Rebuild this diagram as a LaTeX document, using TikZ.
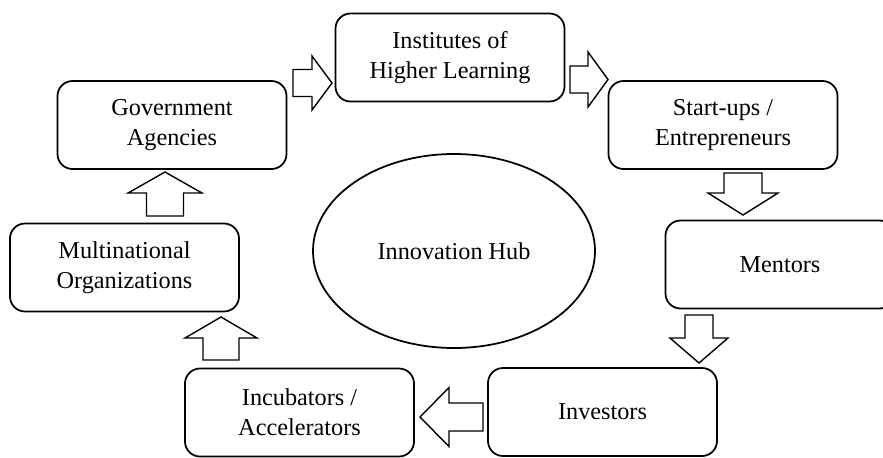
\documentclass[tikz,border=0pt]{standalone}
\usepackage{fontspec}
\setmainfont{Liberation Serif}
\usetikzlibrary{positioning,shapes}

\begin{document}
\begin{tikzpicture}[align=center,font=\fontsize{13.8}{17.1}\selectfont]
    \tikzstyle{actor} = [draw,rectangle,rounded corners=0.3cm,line width=1pt,minimum width=4.58cm,minimum height=1.76cm]
    \tikzstyle{hub} = [draw,ellipse,line width=1pt,minimum width=5.64cm,minimum height=3.88cm]
    \tikzstyle{blockarrow} = [draw,fill=white,line width=0.8pt,line join=miter]
    \useasboundingbox (0,0) rectangle (17.66,-9.14);
      \node[actor] (gov) at (3.44,-2.50) {Government\\Agencies};
      \node[actor] (inst) at (9.00,-1.15) {Institutes of\\Higher Learning};
      \node[actor] (startups) at (14.46,-2.50) {Start-ups /\\Entrepreneurs};
      \node[actor] (mentors) at (15.60,-5.29) {Mentors};
      \node[actor] (investors) at (12.05,-8.24) {Investors};
      \node[actor] (incub) at (5.99,-8.25) {Incubators /\\Accelerators};
      \node[actor] (multi) at (2.49,-5.35) {Multinational\\Organizations};
      \node[hub] (hub) at (9.08,-5.02) {Innovation Hub};
      % block arrows: tail x/tail y/direction/length/shaft/head/head length
      \foreach \x/\y/\r/\l/\s/\h/\t in {5.86/-1.66/0/0.78/0.54/1.08/0.40,
                                        11.40/-1.59/0/0.76/0.54/1.10/0.40,
                                        14.86/-3.46/-90/0.84/0.76/1.40/0.44,
                                        13.98/-6.30/-90/0.96/0.56/1.16/0.50,
                                        9.66/-8.34/180/1.26/0.56/1.18/0.58,
                                        4.42/-7.20/90/0.86/0.72/1.44/0.42,
                                        3.30/-4.32/90/0.88/0.74/1.48/0.42}
        \draw[blockarrow,shift={(\x,\y)},rotate=\r] (0,-\s/2) -- ({\l-\t},-\s/2) -- ({\l-\t},-\h/2) -- (\l,0)
          -- ({\l-\t},\h/2) -- ({\l-\t},\s/2) -- (0,\s/2) -- cycle;
  \end{tikzpicture}
\end{document}
